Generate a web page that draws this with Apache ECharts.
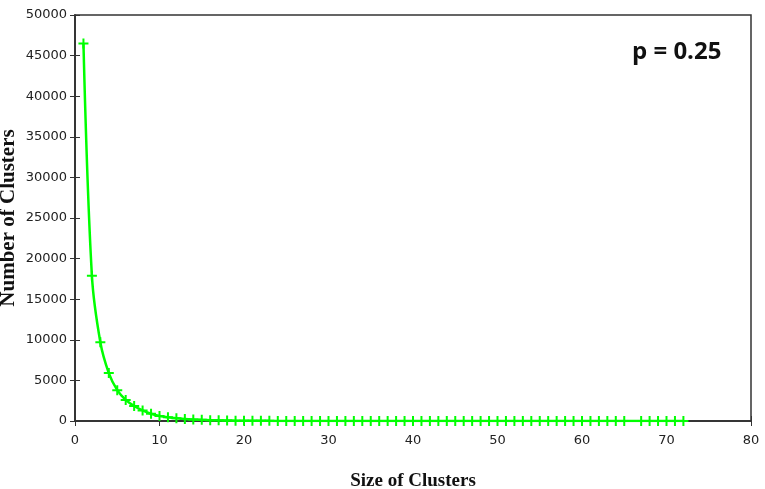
<!DOCTYPE html>
<html>
<head>
<meta charset="utf-8">
<script src="https://cdn.jsdelivr.net/npm/echarts@6/dist/echarts.min.js"></script>
<style>
html, body { margin: 0; padding: 0; background: #fff; }
#main { width: 765px; height: 489px; }
</style>
</head>
<body>
<div id="main"></div>
<script>
// cluster size (x) - note 66 is missing in the source plot
var sizes = [];
for (var s = 1; s <= 65; s++) sizes.push(s);
sizes.push(67, 68, 69, 70, 71, 72);

// number of clusters for each size
var counts = [
    46500, 17900, 9700, 5900, 3800, 2600, 1850, 1300, 900, 620,
    450, 330, 250, 190, 140, 105, 80, 60, 45, 35,
    27, 21, 16, 13, 10, 8, 6, 5, 4, 3,
    3, 2, 2, 2, 1, 1, 1, 1, 1, 1,
    1, 1, 1, 1, 1, 1, 1, 1, 1, 1,
    1, 1, 1, 1, 1, 1, 1, 1, 1, 1,
    1, 1, 1, 1, 1,
    1, 1, 1, 1, 1, 1
];

var xTicks = [0, 10, 20, 30, 40, 50, 60, 70, 80];
var yTicks = [0, 5000, 10000, 15000, 20000, 25000, 30000, 35000, 40000, 45000, 50000];

var points = sizes.map(function (x, i) { return [x, counts[i]]; });

var frame = '#333';
var labelFont = { color: '#222', fontFamily: 'DejaVu Sans', fontSize: 13 };
var plusPath = 'path://M4,0H6V4H10V6H6V10H4V6H0V4H4Z';

var chart = echarts.init(document.getElementById('main'));
chart.setOption({
    animation: false,
    backgroundColor: '#fff',
    grid: {
        left: 75, right: 14, top: 15, bottom: 68,
        containLabel: false, outerBoundsMode: 'none',
        show: true, borderColor: frame, borderWidth: 1.5, backgroundColor: 'transparent'
    },
    graphic: [{
        type: 'text',
        left: 632,
        top: 40,
        style: {
            text: 'p = 0.25',
            fontFamily: 'Open Sans',
            fontWeight: 'bold',
            fontSize: 24,
            fill: '#111'
        }
    }],
    xAxis: [{
        type: 'value',
        min: 0, max: 80, interval: 10,
        name: 'Size of Clusters',
        nameLocation: 'middle',
        nameGap: 51,
        nameMoveOverlap: false,
        nameTextStyle: { fontFamily: 'Liberation Serif', fontWeight: 'bold', fontSize: 19, color: '#111' },
        axisLine: { show: true, lineStyle: { color: frame, width: 1.5 } },
        axisTick: { show: true, inside: true, length: 5, lineStyle: { color: frame } },
        axisLabel: Object.assign({ margin: 13, formatter: function (v) { return xTicks.indexOf(v) >= 0 ? String(v) : ''; } }, labelFont),
        splitLine: { show: false }
    }, {
        type: 'value',
        position: 'top',
        min: 0, max: 80, interval: 10,
        axisLine: { show: true, lineStyle: { color: frame, width: 1.5 } },
        axisTick: { show: true, inside: true, length: 5, lineStyle: { color: frame } },
        axisLabel: { show: false },
        splitLine: { show: false }
    }],
    yAxis: [{
        type: 'value',
        min: 0, max: 50000, interval: 5000,
        name: 'Number of Clusters',
        nameLocation: 'middle',
        nameGap: 56,
        nameMoveOverlap: false,
        nameTextStyle: { fontFamily: 'Liberation Serif', fontWeight: 'bold', fontSize: 21, color: '#111' },
        axisLine: { show: true, lineStyle: { color: frame, width: 1.5 } },
        axisTick: { show: true, inside: true, length: 5, lineStyle: { color: frame } },
        axisLabel: Object.assign({ margin: 8, formatter: function (v) { return yTicks.indexOf(v) >= 0 ? String(v) : ''; } }, labelFont),
        splitLine: { show: false }
    }, {
        type: 'value',
        position: 'right',
        min: 0, max: 50000, interval: 5000,
        axisLine: { show: true, lineStyle: { color: frame, width: 1.5 } },
        axisTick: { show: true, inside: true, length: 5, lineStyle: { color: frame } },
        axisLabel: { show: false },
        splitLine: { show: false }
    }],
    series: [{
        type: 'line',
        data: points,
        smooth: 0.35,
        symbol: plusPath,
        symbolSize: 10,
        showAllSymbol: true,
        lineStyle: { color: '#00ff00', width: 2.5 },
        itemStyle: { color: '#00ff00' }
    }, {
        // invisible series so the mirrored top/right axes get drawn
        type: 'line',
        xAxisIndex: 1,
        yAxisIndex: 1,
        data: [[0, 0]],
        showSymbol: false,
        lineStyle: { opacity: 0 },
        silent: true
    }]
});
</script>
</body>
</html>
